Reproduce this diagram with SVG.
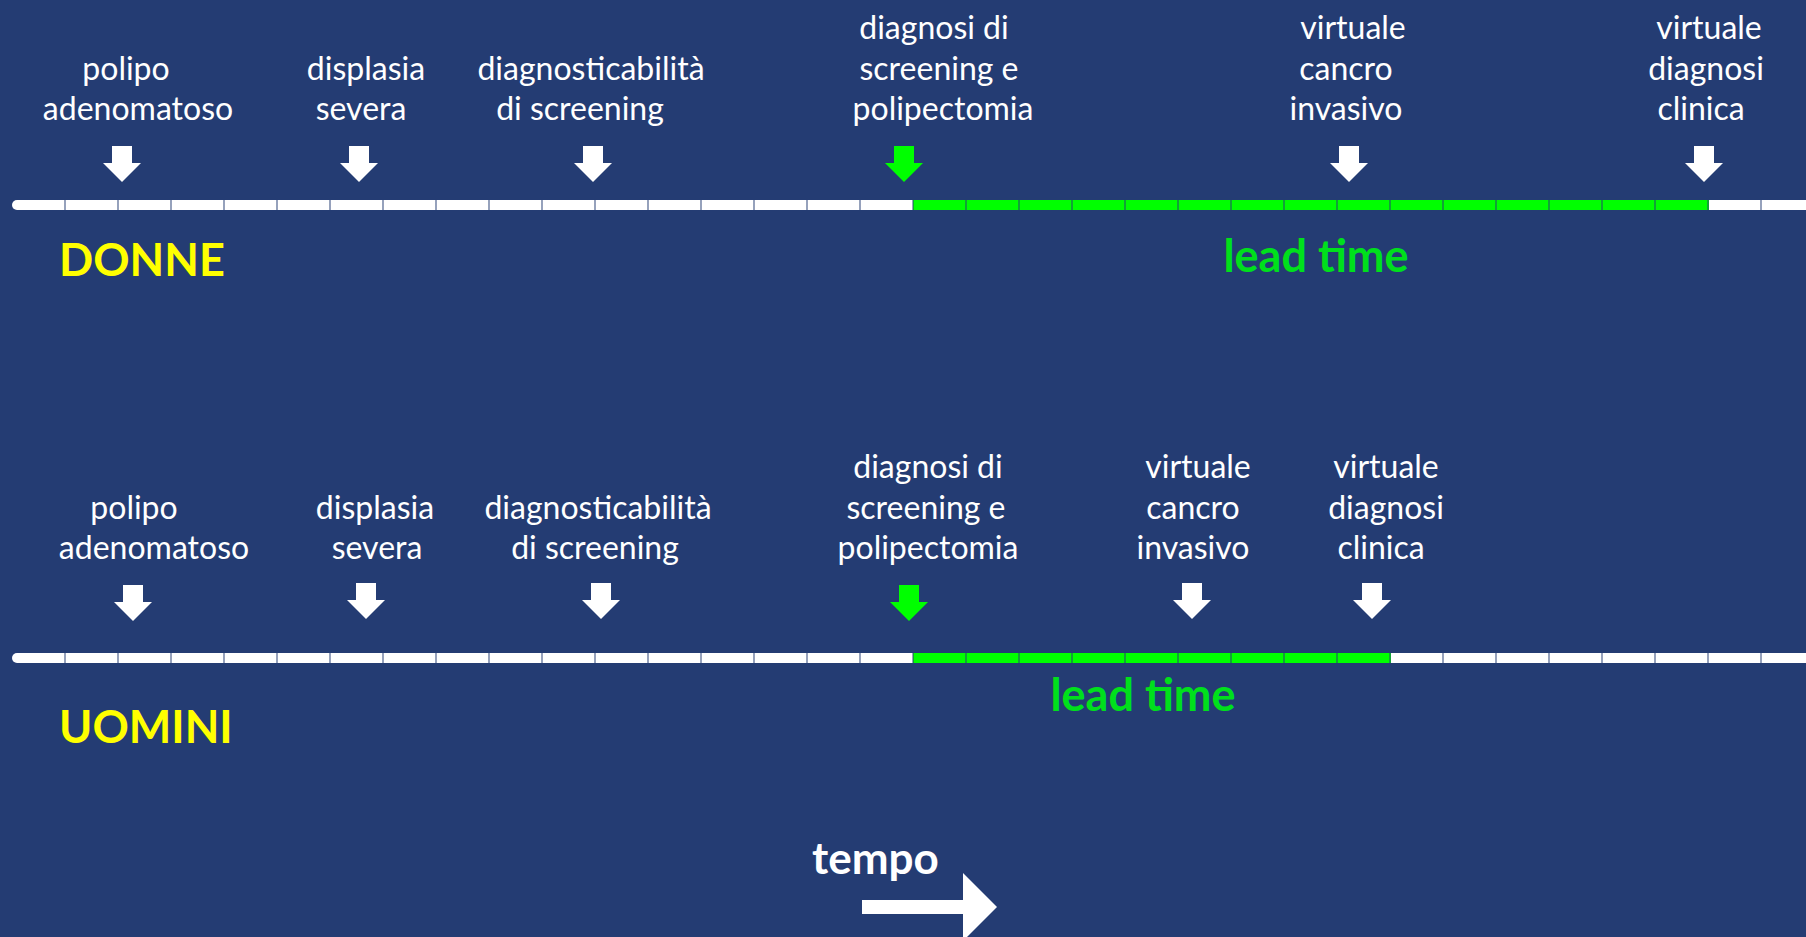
<svg xmlns="http://www.w3.org/2000/svg" width="1806" height="937" viewBox="0 0 1806 937">
<style>
.t{font-family:Lato,"Liberation Sans",sans-serif;font-size:32px;fill:#fff;text-anchor:middle}
.lbl{font-family:Lato,"Liberation Sans",sans-serif;font-weight:bold;font-size:45px;fill:#ffff00}
.lead{font-family:Lato,"Liberation Sans",sans-serif;font-weight:bold;font-size:45px;fill:#00e01c}
.tempo{font-family:Lato,"Liberation Sans",sans-serif;font-weight:bold;font-size:44px;fill:#fff}
.gap{stroke:#243c73;stroke-opacity:0.8;stroke-width:10;stroke-dasharray:1.2 51.8}
</style>
<defs>
<path id="arr" d="M-10,0 H10 V17 H19 L0,36 L-19,17 H-10 Z"/>
</defs>
<rect width="1806" height="937" fill="#243c73"/>

<g id="connectors">
  <!-- DONNE timeline -->
  <rect x="12" y="200" width="1800" height="10" rx="5" fill="#fff"/>
  <rect x="913" y="200" width="796" height="10" fill="#00ff00"/>
  <line class="gap" x1="64.4" y1="205" x2="1806" y2="205"/>
  <!-- UOMINI timeline -->
  <rect x="12" y="653" width="1800" height="10" rx="5" fill="#fff"/>
  <rect x="913" y="653" width="478" height="10" fill="#00ff00"/>
  <line class="gap" x1="64.4" y1="658" x2="1806" y2="658"/>
</g>

<g id="donne">
  <text class="lbl" x="59" y="276">DONNE</text>
  <text class="lead" x="1316" y="272" text-anchor="middle">lead time</text>
  <g id="d-polipo"><text class="t"><tspan x="126" y="80">polipo</tspan><tspan x="138" y="120">adenomatoso</tspan></text><use href="#arr" x="122" y="146" fill="#fff"/></g>
  <g id="d-displasia"><text class="t"><tspan x="366" y="80">displasia</tspan><tspan x="361" y="120">severa</tspan></text><use href="#arr" x="359" y="146" fill="#fff"/></g>
  <g id="d-diagn"><text class="t"><tspan x="591" y="80">diagnosticabilità</tspan><tspan x="580" y="120">di screening</tspan></text><use href="#arr" x="593" y="146" fill="#fff"/></g>
  <g id="d-screening"><text class="t"><tspan x="934" y="39">diagnosi di</tspan><tspan x="939" y="80">screening e</tspan><tspan x="943" y="120">polipectomia</tspan></text><use href="#arr" x="904" y="146" fill="#00ff00"/></g>
  <g id="d-cancro"><text class="t"><tspan x="1353" y="39">virtuale</tspan><tspan x="1346" y="80">cancro</tspan><tspan x="1346" y="120">invasivo</tspan></text><use href="#arr" x="1349" y="146" fill="#fff"/></g>
  <g id="d-clinica"><text class="t"><tspan x="1709" y="39">virtuale</tspan><tspan x="1706" y="80">diagnosi</tspan><tspan x="1701" y="120">clinica</tspan></text><use href="#arr" x="1704" y="146" fill="#fff"/></g>
</g>

<g id="uomini">
  <text class="lbl" x="59" y="743">UOMINI</text>
  <text class="lead" x="1143" y="711" text-anchor="middle">lead time</text>
  <g id="u-polipo"><text class="t"><tspan x="134" y="519">polipo</tspan><tspan x="154" y="559">adenomatoso</tspan></text><use href="#arr" x="133" y="585" fill="#fff"/></g>
  <g id="u-displasia"><text class="t"><tspan x="375" y="519">displasia</tspan><tspan x="377" y="559">severa</tspan></text><use href="#arr" x="366" y="583" fill="#fff"/></g>
  <g id="u-diagn"><text class="t"><tspan x="598" y="519">diagnosticabilità</tspan><tspan x="595" y="559">di screening</tspan></text><use href="#arr" x="601" y="583" fill="#fff"/></g>
  <g id="u-screening"><text class="t"><tspan x="928" y="478">diagnosi di</tspan><tspan x="926" y="519">screening e</tspan><tspan x="928" y="559">polipectomia</tspan></text><use href="#arr" x="909" y="585" fill="#00ff00"/></g>
  <g id="u-cancro"><text class="t"><tspan x="1198" y="478">virtuale</tspan><tspan x="1193" y="519">cancro</tspan><tspan x="1193" y="559">invasivo</tspan></text><use href="#arr" x="1192" y="583" fill="#fff"/></g>
  <g id="u-clinica"><text class="t"><tspan x="1386" y="478">virtuale</tspan><tspan x="1386" y="519">diagnosi</tspan><tspan x="1381" y="559">clinica</tspan></text><use href="#arr" x="1372" y="583" fill="#fff"/></g>
</g>

<g id="tempo">
  <text class="tempo" x="812" y="874">tempo</text>
  <path d="M862,900 H963 V873 L997,907 L963,941 V914 H862 Z" fill="#fff"/>
</g>
</svg>
